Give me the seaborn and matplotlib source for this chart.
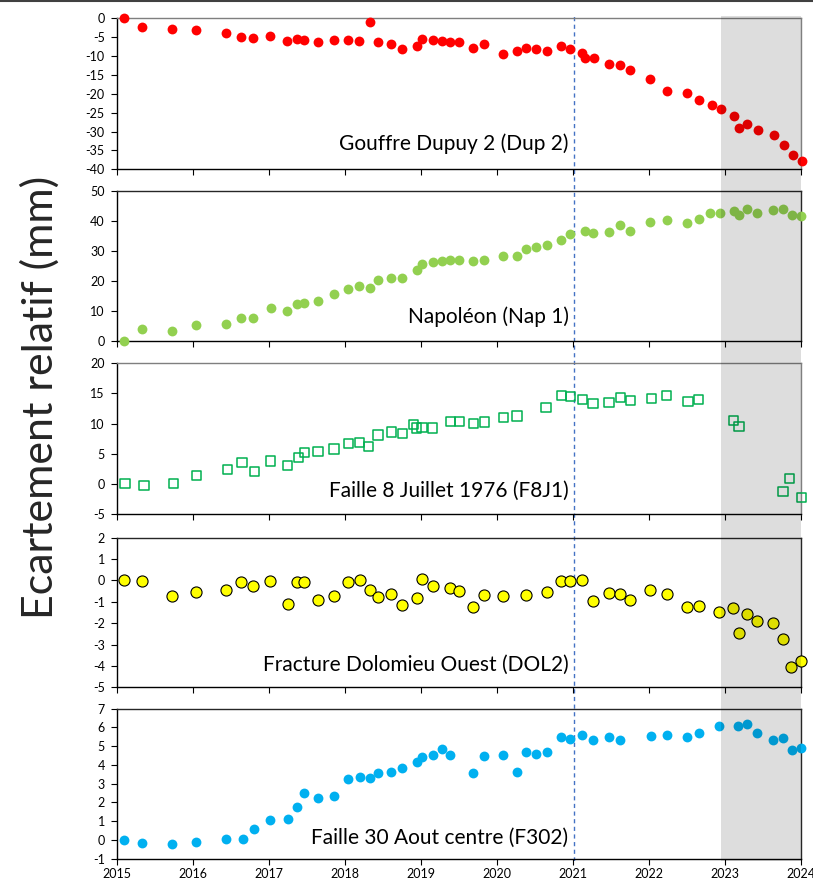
import matplotlib
matplotlib.use("Agg")
import matplotlib.pyplot as plt
import seaborn as sns
from matplotlib.lines import Line2D

# ---------------- data (decimal years, mm) ----------------
dup_dates = [2015.09, 2015.33, 2015.72, 2016.03, 2016.43, 2016.63, 2016.79, 2017.01, 2017.23, 2017.36,
             2017.46, 2017.64, 2017.85, 2018.04, 2018.18, 2018.32, 2018.43, 2018.60, 2018.75, 2018.94,
             2019.01, 2019.15, 2019.27, 2019.38, 2019.49, 2019.68, 2019.82, 2020.08, 2020.26, 2020.38,
             2020.51, 2020.65, 2020.84, 2020.96, 2021.12, 2021.16, 2021.27, 2021.47, 2021.62, 2021.75,
             2022.01, 2022.23, 2022.50, 2022.65, 2022.82, 2022.94, 2023.11, 2023.18, 2023.29, 2023.43,
             2023.64, 2023.77, 2023.89, 2024.01]
dup_vals = [0, -2.4, -2.75, -3.2, -4.0, -5.0, -5.2, -4.7, -6.0, -5.6,
            -5.8, -6.3, -5.7, -5.7, -6.0, -1.0, -6.4, -6.9, -8.2, -7.4,
            -5.6, -5.7, -5.9, -6.3, -6.4, -7.9, -6.9, -9.5, -8.6, -7.8,
            -8.1, -8.7, -7.4, -8.1, -9.1, -10.4, -10.4, -12.2, -12.5, -13.6,
            -16.2, -19.2, -19.7, -21.7, -23.0, -23.9, -26.0, -29.1, -27.9, -29.7,
            -30.9, -33.5, -36.3, -37.7]

nap_dates = [2015.09, 2015.33, 2015.72, 2016.03, 2016.43, 2016.63, 2016.79, 2017.02, 2017.23, 2017.36,
             2017.46, 2017.64, 2017.85, 2018.04, 2018.18, 2018.32, 2018.43, 2018.60, 2018.75, 2018.94,
             2019.01, 2019.15, 2019.27, 2019.38, 2019.49, 2019.68, 2019.82, 2020.08, 2020.26, 2020.38,
             2020.51, 2020.65, 2020.84, 2020.96, 2021.15, 2021.26, 2021.47, 2021.62, 2021.75, 2022.01,
             2022.23, 2022.50, 2022.65, 2022.80, 2022.93, 2023.12, 2023.18, 2023.29, 2023.42, 2023.63,
             2023.76, 2023.88, 2024.00]
nap_vals = [0, 4.1, 3.3, 5.3, 5.8, 7.6, 7.9, 11.2, 10.2, 12.3,
            12.9, 13.3, 15.8, 17.4, 18.4, 17.8, 20.3, 21.1, 21.1, 23.9,
            25.7, 26.4, 26.8, 27.1, 27.1, 26.7, 27.1, 28.3, 28.5, 30.8,
            31.4, 32.1, 33.8, 35.7, 36.9, 36.1, 36.3, 38.8, 36.8, 39.8,
            40.3, 39.3, 40.8, 42.9, 42.9, 43.4, 42.2, 44.0, 42.8, 43.7,
            44.0, 42.0, 41.8]

f8j_dates = [2015.10, 2015.35, 2015.74, 2016.04, 2016.45, 2016.64, 2016.81, 2017.02, 2017.24, 2017.38,
             2017.46, 2017.64, 2017.85, 2018.04, 2018.19, 2018.31, 2018.43, 2018.61, 2018.75, 2018.90,
             2018.94, 2019.01, 2019.15, 2019.38, 2019.50, 2019.69, 2019.83, 2020.08, 2020.26, 2020.64,
             2020.84, 2020.96, 2021.12, 2021.26, 2021.47, 2021.62, 2021.75, 2022.03, 2022.23, 2022.51,
             2022.65, 2023.11, 2023.18, 2023.76, 2023.84, 2024.00]
f8j_vals = [0, -0.3, 0, 1.35, 2.4, 3.5, 2.1, 3.8, 3.1, 4.4,
            5.2, 5.4, 5.8, 6.7, 6.9, 6.2, 8.1, 8.6, 8.4, 9.8,
            9.25, 9.4, 9.25, 10.4, 10.4, 10.0, 10.25, 11.0, 11.25, 12.7,
            14.7, 14.5, 13.95, 13.35, 13.5, 14.3, 13.85, 14.2, 14.6, 13.7,
            14.0, 10.5, 9.5, -1.25, 0.95, -2.25]

dol_dates = [2015.09, 2015.33, 2015.72, 2016.03, 2016.43, 2016.63, 2016.79, 2017.01, 2017.24, 2017.36,
             2017.46, 2017.64, 2017.85, 2018.04, 2018.19, 2018.32, 2018.43, 2018.60, 2018.75, 2018.94,
             2019.01, 2019.15, 2019.38, 2019.50, 2019.68, 2019.82, 2020.08, 2020.38, 2020.65, 2020.84,
             2020.96, 2021.12, 2021.26, 2021.47, 2021.62, 2021.75, 2022.01, 2022.23, 2022.50, 2022.65,
             2022.92, 2023.10, 2023.18, 2023.28, 2023.42, 2023.63, 2023.76, 2023.87, 2024.00]
dol_vals = [0, -0.04, -0.71, -0.55, -0.44, -0.09, -0.27, -0.02, -1.08, -0.09,
            -0.07, -0.91, -0.72, -0.09, 0, -0.47, -0.79, -0.62, -1.14, -0.80,
            0.07, -0.24, -0.34, -0.49, -1.22, -0.69, -0.71, -0.66, -0.55, -0.02,
            -0.01, 0, -0.96, -0.58, -0.65, -0.90, -0.44, -0.65, -1.22, -1.21,
            -1.46, -1.30, -2.47, -1.58, -1.89, -1.99, -2.72, -4.03, -3.79]

f30_dates = [2015.09, 2015.33, 2015.72, 2016.03, 2016.43, 2016.65, 2016.80, 2017.01, 2017.24, 2017.37,
             2017.46, 2017.64, 2017.85, 2018.04, 2018.19, 2018.32, 2018.43, 2018.60, 2018.75, 2018.94,
             2019.01, 2019.15, 2019.27, 2019.38, 2019.68, 2019.82, 2020.08, 2020.26, 2020.38, 2020.51,
             2020.65, 2020.84, 2020.96, 2021.12, 2021.26, 2021.47, 2021.62, 2022.02, 2022.23, 2022.50,
             2022.65, 2022.92, 2023.17, 2023.28, 2023.42, 2023.63, 2023.76, 2023.88, 2024.00]
f30_vals = [0, -0.18, -0.23, -0.11, 0.07, 0.07, 0.6, 1.05, 1.1, 1.78,
            2.49, 2.26, 2.36, 3.24, 3.34, 3.32, 3.59, 3.6, 3.82, 4.16,
            4.43, 4.55, 4.87, 4.55, 3.56, 4.46, 4.55, 3.61, 4.71, 4.57,
            4.68, 5.48, 5.37, 5.58, 5.35, 5.51, 5.32, 5.56, 5.58, 5.51,
            5.69, 6.1, 6.06, 6.17, 5.72, 5.33, 5.46, 4.82, 4.89]

labels = ["Gouffre Dupuy 2 (Dup 2)", "Napoléon (Nap 1)", "Faille 8 Juillet 1976 (F8J1)",
          "Fracture Dolomieu Ouest (DOL2)", "Faille 30 Aout centre (F302)"]
year_ticks = list(range(2015, 2025))
shade_start, shade_end = 2022.94, 2024.0
event_date = 2021.01
y_label = "Ecartement relatif (mm)"

# ---------------- style ----------------
sns.set_style("white")
plt.rcParams["font.family"] = ["Lato", "DejaVu Sans"]
plt.rcParams["axes.unicode_minus"] = False

W, H = 813, 888
fig = plt.figure(figsize=(W / 100, H / 100), dpi=100)

x0, x1 = 117.3, 801.3
def rect(top, bot):
    return [x0 / W, 1 - bot / H, (x1 - x0) / W, (bot - top) / H]

panels = [
    dict(d=dup_dates, v=dup_vals, top=18.3, bot=169.3, ylim=(-40, 0), step=5,
         kw=dict(color="#FF0000", s=50, linewidth=0, marker="o"), frame="#7f7f7f", ty=144),
    dict(d=nap_dates, v=nap_vals, top=191.3, bot=341.3, ylim=(0, 50), step=10,
         kw=dict(color="#92D050", s=50, linewidth=0, marker="o"), frame="#262626", ty=317),
    dict(d=f8j_dates, v=f8j_vals, top=363.3, bot=514.0, ylim=(-5, 20), step=5,
         kw=dict(color="none", edgecolor="#00B050", s=44, linewidth=1.1, marker="s"), frame="#7f7f7f", ty=490.5),
    dict(d=dol_dates, v=dol_vals, top=537.7, bot=687.3, ylim=(-5, 2), step=1,
         kw=dict(color="#FFFF00", edgecolor="#000000", s=64, linewidth=0.8, marker="o"), frame="#262626", ty=665),
    dict(d=f30_dates, v=f30_vals, top=708.7, bot=858.7, ylim=(-1, 7), step=1,
         kw=dict(color="#00B0F0", s=50, linewidth=0, marker="o"), frame="#262626", ty=838),
]

# background layer: dashed event line
bg = fig.add_axes([x0 / W, 1 - 861 / H, (x1 - x0) / W, (861 - 16) / H], zorder=0)
bg.set_xlim(2015, 2024)
bg.set_ylim(0, 1)
bg.axvline(event_date, color="#4472C4", lw=1.0, ls=(0, (3, 2.5)))
bg.axis("off")
bg.patch.set_alpha(0)

axes = []
for i, p in enumerate(panels):
    ax = fig.add_axes(rect(p["top"], p["bot"]), zorder=1)
    ax.patch.set_alpha(0)
    sns.scatterplot(x=p["d"], y=p["v"], ax=ax, clip_on=False, zorder=3, **p["kw"])
    ax.set_xlim(2015, 2024)
    lo, hi = p["ylim"]
    ax.set_ylim(lo, hi)
    ax.set_yticks(list(range(lo, hi + 1, p["step"])))
    ax.set_xticks(year_ticks)
    if i == len(panels) - 1:
        ax.set_xticklabels([str(y) for y in year_ticks])
    else:
        ax.set_xticklabels([])
    ax.tick_params(axis="both", direction="out", length=4, width=0.8, color="black",
                   labelsize=9, labelcolor="black", pad=3)
    ax.tick_params(axis="y", pad=5)
    ax.tick_params(axis="x", bottom=True)
    ax.tick_params(axis="y", left=True)
    for s in ["left", "bottom"]:
        ax.spines[s].set_color("black")
        ax.spines[s].set_linewidth(1.0)
    for s in ["top", "right"]:
        ax.spines[s].set_color(p["frame"])
        ax.spines[s].set_linewidth(1.0)
    ax.set_xlabel("")
    ax.set_ylabel("")
    fig.text(568.5 / W, 1 - p["ty"] / H, labels[i], ha="right", va="center", fontsize=15,
             color="black")
    axes.append(ax)

# foreground layer: translucent grey band over the last year
fg = fig.add_axes([x0 / W, 1 - 861 / H, (x1 - x0) / W, (861 - 16) / H], zorder=5)
fg.set_xlim(2015, 2024)
fg.set_ylim(0, 1)
fg.axvspan(shade_start, shade_end, color="black", alpha=0.135, lw=0)
fg.axis("off")
fg.patch.set_alpha(0)

fig.text(40 / W, 1 - 397 / H, y_label, rotation=90, ha="center", va="center", fontsize=31)

fig.add_artist(Line2D([0, 1], [1 - 1 / H, 1 - 1 / H], color="#404040", lw=1.5))

fig.savefig("out.png", dpi=100)
